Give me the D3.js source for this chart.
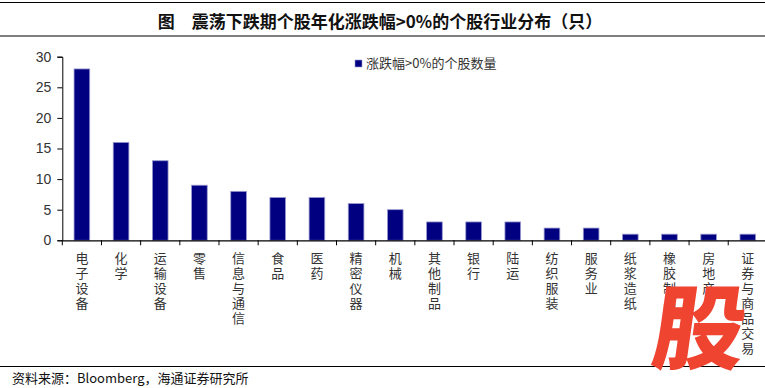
<!DOCTYPE html>
<html><head><meta charset="utf-8">
<script src="https://cdn.jsdelivr.net/npm/d3@7/dist/d3.min.js"></script>
<style>body{margin:0;background:#fff}svg{display:block}</style>
</head><body>
<script>
const categories = ["电子设备","化学","运输设备","零售","信息与通信","食品","医药","精密仪器","机械","其他制品","银行","陆运","纺织服装","服务业","纸浆造纸","橡胶制品","房地产","证券与商品交易"];
const values = [28,16,13,9,8,7,7,6,5,3,3,3,2,2,1,1,1,1];
const yTicks = [0,5,10,15,20,25,30];
const seriesName = "涨跌幅>0%的个股数量";
const titleText = "图　震荡下跌期个股年化涨跌幅>0%的个股行业分布（只）";
const sourceText = "资料来源：Bloomberg，海通证券研究所";

const W = 765, H = 388;
const svg = d3.select("body").append("svg").attr("width", W).attr("height", H);
const cjk = "'Noto Sans CJK SC', 'Noto Sans', sans-serif";

// title & frame lines
svg.append("line").attr("x1", 0).attr("x2", W).attr("y1", 2.5).attr("y2", 2.5).attr("stroke", "#000").attr("stroke-width", 1.2);
svg.append("text").attr("x", 380).attr("y", 28).attr("text-anchor", "middle")
  .attr("font-family", cjk).attr("font-weight", "bold").attr("font-size", 17).attr("fill", "#111")
  .text(titleText);
svg.append("line").attr("x1", 0).attr("x2", W).attr("y1", 36).attr("y2", 36).attr("stroke", "#000").attr("stroke-width", 1.2);
svg.append("line").attr("x1", 0).attr("x2", W).attr("y1", 366.5).attr("y2", 366.5).attr("stroke", "#000").attr("stroke-width", 1.2);
svg.append("text").attr("x", 12).attr("y", 383).attr("font-family", cjk).attr("font-size", 13).attr("fill", "#111").text(sourceText);

const x = d3.scaleBand().domain(categories).range([62.3, 767.4]).paddingInner(0.6).paddingOuter(0.3);
const y = d3.scaleLinear().domain([0, 30]).range([240.3, 56.7]);

// bars
svg.append("g").selectAll("rect").data(values).join("rect")
  .attr("x", (d, i) => x(categories[i]))
  .attr("y", d => y(d))
  .attr("width", x.bandwidth())
  .attr("height", d => y(0) - y(d))
  .attr("fill", "#000080").attr("stroke", "#9a9ad0").attr("stroke-width", 0.8);

// y axis
const ya = svg.append("g").attr("transform", "translate(62.3,0)")
  .call(d3.axisLeft(y).tickValues(yTicks).tickSize(5).tickPadding(6));
ya.select(".domain").attr("stroke", "#000");
ya.selectAll(".tick line").attr("stroke", "#000");
ya.selectAll("text").attr("font-family", "'Liberation Sans', Arial, sans-serif").attr("font-size", 14).attr("fill", "#333");

// x axis
const step = x.step();
const xa = svg.append("g").attr("transform", `translate(0,${y(0)})`)
  .call(d3.axisBottom(x).tickSize(0).tickFormat(""));
xa.select(".domain").attr("stroke", "#000").attr("stroke-width", 1.2);
const boundaries = categories.map((c, i) => 62.3 + i * step);
xa.selectAll(".bt").data(boundaries).join("line").attr("class", "bt")
  .attr("x1", d => d).attr("x2", d => d).attr("y1", 0).attr("y2", 5).attr("stroke", "#000");

// vertical category labels
svg.append("g").selectAll("text").data(categories).join("text")
  .attr("x", c => x(c) + x.bandwidth() / 2)
  .attr("y", 252)
  .attr("font-family", cjk).attr("font-size", 13).attr("fill", "#333")
  .style("writing-mode", "vertical-rl").style("letter-spacing", "2px")
  .text(c => c);

// legend
svg.append("rect").attr("x", 355).attr("y", 60).attr("width", 7).attr("height", 7).attr("fill", "#000080").attr("stroke", "#9a9ad0").attr("stroke-width", 0.6);
svg.append("text").attr("x", 366).attr("y", 68).attr("font-family", cjk).attr("font-size", 13).attr("fill", "#333").text(seriesName);

// watermark
svg.append("text").attr("x", 698).attr("y", 362).attr("text-anchor", "middle")
  .attr("font-family", cjk).attr("font-weight", "900").attr("font-size", 92).attr("fill", "#ef4430")
  .attr("transform", "skewX(-8) translate(48,0)").text("股");
</script>
</body></html>
